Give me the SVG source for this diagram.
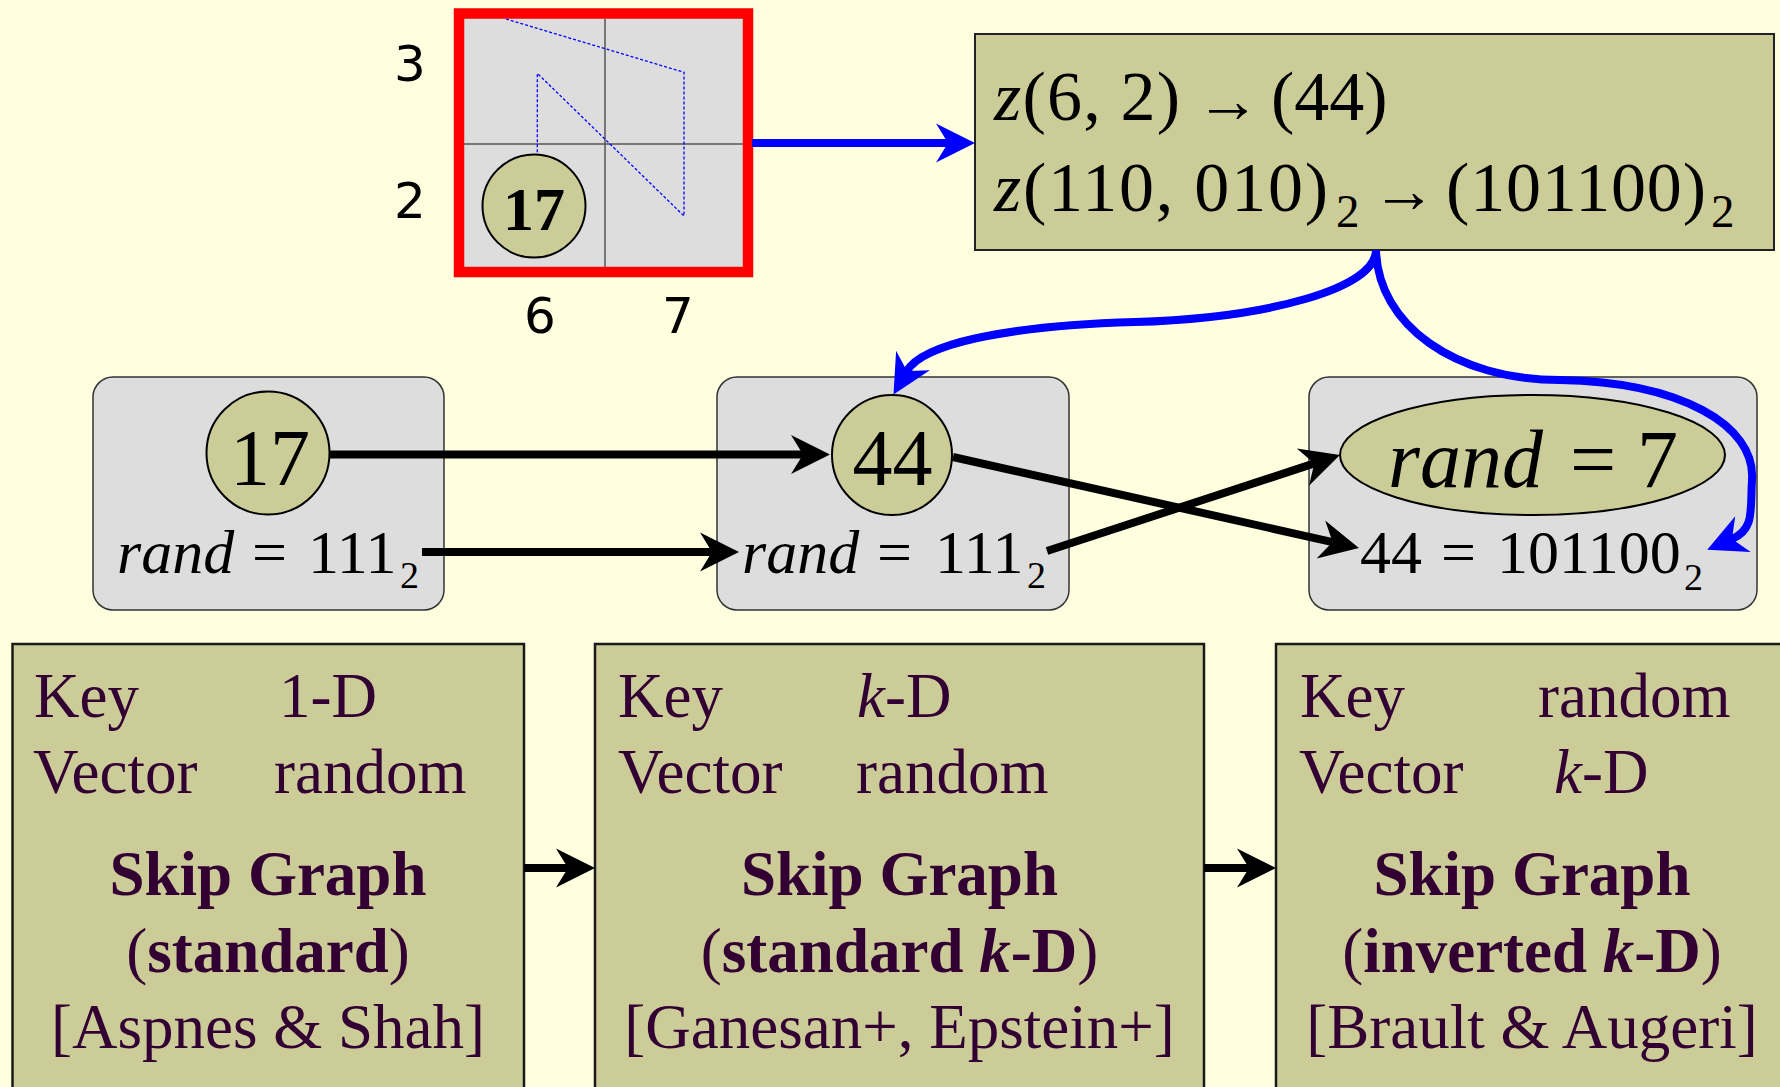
<svg xmlns="http://www.w3.org/2000/svg" width="1780" height="1087" viewBox="0 0 1780 1087">
  <style>
    .serif { font-family: "Liberation Serif", "Times New Roman", serif; }
    .sans { font-family: "DejaVu Sans", "Liberation Sans", sans-serif; }
    .it { font-style: italic; }
    .bd { font-weight: bold; }
    .nb { font-weight: normal; }
    .khaki { fill: #cccc99; }
    .panel { fill: #dddddd; stroke: #333333; stroke-width: 1.5; }
    .card { fill: #cccc99; stroke: #1a1a1a; stroke-width: 2.5; }
    .card-text { fill: #330033; font-size: 63px; }
    .num { fill: #000000; }
    .link { fill: none; stroke-width: 8; }
    .black { stroke: #000000; }
    .blue { stroke: #0000ff; }
  </style>
  <defs>
    <marker id="head-black" markerUnits="userSpaceOnUse" viewBox="0 -20 40 40" markerWidth="40" markerHeight="40" refX="12" refY="0" orient="auto" overflow="visible">
      <path d="M0,-19.5 L39,0 L0,19.5 L12,0 Z" fill="#000000"/>
    </marker>
    <marker id="head-blue" markerUnits="userSpaceOnUse" viewBox="0 -20 40 40" markerWidth="40" markerHeight="40" refX="12" refY="0" orient="auto" overflow="visible">
      <path d="M0,-19.5 L39,0 L0,19.5 L12,0 Z" fill="#0000ff"/>
    </marker>
  </defs>

  <rect x="0" y="0" width="1780" height="1087" fill="#ffffe0"/>

  <!-- 2x2 grid of cells (6..7, 2..3) with the z-order walk -->
  <g id="grid">
    <rect x="459" y="13.5" width="289" height="258.5" fill="#dddddd" stroke="#ff0000" stroke-width="10.5"/>
    <line x1="605" y1="19" x2="605" y2="267" stroke="#555555" stroke-width="1.5"/>
    <line x1="464" y1="144" x2="743" y2="144" stroke="#555555" stroke-width="1.5"/>
    <polyline points="506,19 684,72.3 684,216 537.3,73.3 537.3,155" fill="none" stroke="#0000ff" stroke-width="1.3" stroke-dasharray="3,2"/>
    <circle cx="534" cy="206" r="51.5" class="khaki" stroke="#000000" stroke-width="2"/>
    <text x="534" y="230" text-anchor="middle" class="serif bd" font-size="62">17</text>
    <g class="sans" font-size="50" text-anchor="middle">
      <text x="410" y="81">3</text>
      <text x="410" y="218">2</text>
      <text x="540" y="333">6</text>
      <text x="678" y="333">7</text>
    </g>
  </g>

  <!-- z-order mapping -->
  <g id="zmap">
    <rect x="975" y="34" width="799" height="216" fill="#cccc99" stroke="#222222" stroke-width="2"/>
    <g class="serif" font-size="70">
      <text x="994" y="120" textLength="186" lengthAdjust="spacing"><tspan class="it">z</tspan>(6, 2)</text>
      <text x="1196" y="122" font-size="64">→</text>
      <text x="1271" y="120">(44)</text>
      <text x="994" y="211" textLength="334" lengthAdjust="spacing"><tspan class="it">z</tspan>(110, 010)</text>
      <text x="1336" y="227" font-size="47">2</text>
      <text x="1372" y="212" font-size="64">→</text>
      <text x="1446" y="211" textLength="260" lengthAdjust="spacing">(101100)</text>
      <text x="1711" y="227" font-size="47">2</text>
    </g>
  </g>

  <!-- node 17 -->
  <g id="node17">
    <rect x="93" y="377" width="351" height="233" rx="20" class="panel"/>
    <circle cx="268" cy="453" r="61.5" class="khaki" stroke="#000000" stroke-width="2"/>
    <text x="270" y="485" text-anchor="middle" class="serif num" font-size="80">17</text>
    <g class="serif" font-size="62">
      <text x="117" y="573" class="it">rand</text>
      <text x="252" y="573">=</text>
      <text x="308" y="573">111</text>
      <text x="400" y="588" font-size="38">2</text>
    </g>
  </g>

  <!-- node 44 -->
  <g id="node44">
    <rect x="717" y="377" width="352" height="233" rx="20" class="panel"/>
    <circle cx="892" cy="455" r="60" class="khaki" stroke="#000000" stroke-width="2"/>
    <text x="892.5" y="485" text-anchor="middle" class="serif num" font-size="80">44</text>
    <g class="serif" font-size="62">
      <text x="742" y="573" class="it">rand</text>
      <text x="877" y="573">=</text>
      <text x="935" y="573">111</text>
      <text x="1027" y="588" font-size="38">2</text>
    </g>
  </g>

  <!-- inverted node: key = rand, vector = 44 -->
  <g id="nodeInverted">
    <rect x="1309" y="377" width="448" height="233" rx="20" class="panel"/>
    <ellipse cx="1532.5" cy="455" rx="192.5" ry="60" class="khaki" stroke="#000000" stroke-width="2"/>
    <g class="serif" font-size="82">
      <text x="1388" y="487" class="it">rand</text>
      <text x="1570" y="487">=</text>
      <text x="1637" y="487">7</text>
    </g>
    <g class="serif" font-size="62">
      <text x="1360" y="573">44</text>
      <text x="1441" y="573">=</text>
      <text x="1497" y="573">101100</text>
      <text x="1684" y="590" font-size="38">2</text>
    </g>
  </g>

  <!-- skip graph variants -->
  <g id="sgStandard" class="serif card-text">
    <rect x="12.5" y="644" width="511.5" height="470" class="card"/>
    <text x="34" y="717">Key</text>
    <text x="279" y="717">1-D</text>
    <text x="33" y="793">Vector</text>
    <text x="274" y="793">random</text>
    <text x="268" y="895" text-anchor="middle" class="bd">Skip Graph</text>
    <text x="268" y="972" text-anchor="middle" class="bd"><tspan class="nb">(</tspan>standard<tspan class="nb">)</tspan></text>
    <text x="268" y="1048" text-anchor="middle">[Aspnes &amp; Shah]</text>
  </g>

  <g id="sgStandardKD" class="serif card-text">
    <rect x="595" y="644" width="609" height="470" class="card"/>
    <text x="618" y="717">Key</text>
    <text x="857" y="717"><tspan class="it">k</tspan>-D</text>
    <text x="618" y="793">Vector</text>
    <text x="856" y="793">random</text>
    <text x="899.5" y="895" text-anchor="middle" class="bd">Skip Graph</text>
    <text x="899.5" y="972" text-anchor="middle" class="bd"><tspan class="nb">(</tspan>standard <tspan class="it">k</tspan>-D<tspan class="nb">)</tspan></text>
    <text x="899.5" y="1048" text-anchor="middle">[Ganesan+, Epstein+]</text>
  </g>

  <g id="sgInvertedKD" class="serif card-text">
    <rect x="1276" y="644" width="520" height="470" class="card"/>
    <text x="1300" y="717">Key</text>
    <text x="1538" y="717">random</text>
    <text x="1299" y="793">Vector</text>
    <text x="1554" y="793"><tspan class="it">k</tspan>-D</text>
    <text x="1532" y="895" text-anchor="middle" class="bd">Skip Graph</text>
    <text x="1532" y="972" text-anchor="middle" class="bd"><tspan class="nb">(</tspan>inverted <tspan class="it">k</tspan>-D<tspan class="nb">)</tspan></text>
    <text x="1532" y="1048" text-anchor="middle">[Brault &amp; Augeri]</text>
  </g>

  <!-- connectors -->
  <g id="connectors">
    <path d="M752,143 L948,143" class="link blue" marker-end="url(#head-blue)"/>
    <path d="M1376,250 C1376,288 1270,318 1135,322 C1000,326 922,345 907,371" class="link blue" marker-end="url(#head-blue)"/>
    <path d="M1376,250 C1378,325 1455,380 1560,380 C1680,382 1756,425 1752,480 C1750,510 1755,529 1732,539" class="link blue" marker-end="url(#head-blue)"/>
    <path d="M330,454.5 L803,454.5" class="link black" marker-end="url(#head-black)"/>
    <path d="M422,552 L712,552" class="link black" marker-end="url(#head-black)"/>
    <path d="M953,457 L1332.6,542.1" class="link black" marker-end="url(#head-black)"/>
    <path d="M1047,551 L1314.3,463.4" class="link black" marker-end="url(#head-black)"/>
    <path d="M524,868 L568,868" class="link black" marker-end="url(#head-black)"/>
    <path d="M1204,868 L1249,868" class="link black" marker-end="url(#head-black)"/>
  </g>
</svg>
